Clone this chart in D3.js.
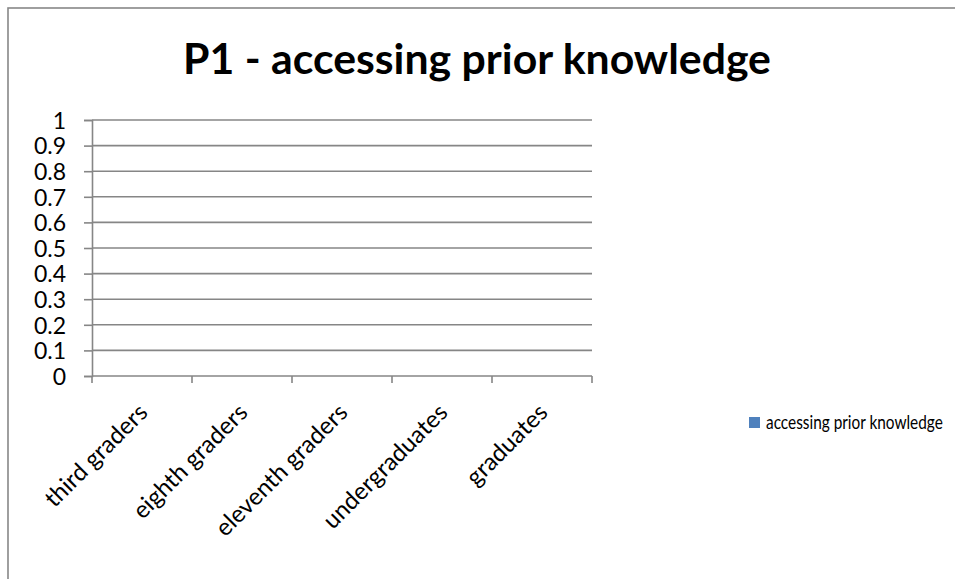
<!DOCTYPE html>
<html>
<head>
<meta charset="utf-8">
<script src="https://cdn.jsdelivr.net/npm/d3@7"></script>
<style>
  html, body { margin: 0; padding: 0; background: #fff; overflow: hidden; }
  svg { display: block; }
  text { font-family: Lato, "Open Sans", "DejaVu Sans", sans-serif; fill: #000; }
</style>
</head>
<body>
<svg id="chart" width="955" height="579"></svg>
<script>
// Chart content
const chartTitle = "P1 - accessing prior knowledge";
const categories = ["third graders", "eighth graders", "eleventh graders", "undergraduates", "graduates"];
const seriesName = "accessing prior knowledge";
const seriesValues = [0, 0, 0, 0, 0];
const yTicks = [0, 0.1, 0.2, 0.3, 0.4, 0.5, 0.6, 0.7, 0.8, 0.9, 1];

const W = 955, H = 579;
const plot = { left: 92, right: 592, top: 120, bottom: 376 };
const gridColor = "#868686";
const barColor = "#4F81BD";

const svg = d3.select("#chart");

// Scale a text's font size so that it spans the given width
function fitWidth(sel, width) {
  const node = sel.node();
  const base = parseFloat(sel.attr("font-size"));
  const len = node.getComputedTextLength();
  if (len > 0) sel.attr("font-size", (base * width / len).toFixed(2));
}

// chart area frame (right and bottom edges fall outside the page)
svg.append("rect")
  .attr("x", 8).attr("y", 8)
  .attr("width", W + 20).attr("height", H + 20)
  .attr("fill", "#fff")
  .attr("stroke", "#878787").attr("stroke-width", 1.6);

// title
const title = svg.append("text")
  .attr("x", 477).attr("y", 74)
  .attr("text-anchor", "middle")
  .attr("font-weight", "bold")
  .attr("font-size", 42)
  .text(chartTitle);
fitWidth(title, 588);

const x = d3.scaleBand().domain(categories).range([plot.left, plot.right]).paddingInner(0.5).paddingOuter(0.25);
const xEdges = d3.scaleLinear().domain([0, categories.length]).range([plot.left, plot.right]);
const y = d3.scaleLinear().domain([0, 1]).range([plot.bottom, plot.top]);

// value axis
const yAxis = d3.axisLeft(y)
  .tickValues(yTicks)
  .tickSize(8)
  .tickFormat(d => d3.format("")(+d.toFixed(1)));

const gy = svg.append("g").attr("transform", `translate(${plot.left},0)`).call(yAxis);
gy.select(".domain").attr("stroke", gridColor).attr("stroke-width", 1.6);
gy.selectAll(".tick line").attr("stroke", gridColor).attr("stroke-width", 1.6);
gy.selectAll(".tick text")
  .attr("font-size", 23)
  .attr("x", -26)
  .attr("dy", "0.36em")
  .style("font-family", "Lato, 'Open Sans', sans-serif");

// horizontal gridlines
svg.append("g").selectAll("line.grid")
  .data(yTicks.filter(d => d > 0))
  .join("line")
  .attr("x1", plot.left).attr("x2", plot.right)
  .attr("y1", d => y(d)).attr("y2", d => y(d))
  .attr("stroke", gridColor).attr("stroke-width", 1.6);

// category axis with boundary tick marks
const gx = svg.append("g").attr("transform", `translate(0,${plot.bottom})`);
gx.append("line")
  .attr("x1", plot.left).attr("x2", plot.right)
  .attr("stroke", gridColor).attr("stroke-width", 1.6);
gx.selectAll("line.tick")
  .data(d3.range(categories.length + 1))
  .join("line")
  .attr("x1", i => xEdges(i)).attr("x2", i => xEdges(i))
  .attr("y1", 0).attr("y2", 7)
  .attr("stroke", gridColor).attr("stroke-width", 1.6);
gx.selectAll("text.cat")
  .data(categories)
  .join("text")
  .attr("class", "cat")
  .attr("text-anchor", "end")
  .attr("font-size", 24)
  .attr("transform", d => `translate(${x(d) + x.bandwidth() / 2 + 7},${38}) rotate(-45)`)
  .text(d => d);

// bars (all values are zero)
svg.append("g").selectAll("rect.bar")
  .data(seriesValues)
  .join("rect")
  .attr("class", "bar")
  .attr("x", (d, i) => x(categories[i]))
  .attr("width", x.bandwidth())
  .attr("y", d => y(d))
  .attr("height", d => y(0) - y(d))
  .attr("fill", barColor);

// legend: text narrowed horizontally to a fixed width
const lg = svg.append("g").attr("transform", "translate(749,417)");
lg.append("rect").attr("width", 11).attr("height", 11).attr("fill", barColor);
const lgText = lg.append("text")
  .attr("x", 0).attr("y", 0).attr("dy", "0.36em")
  .attr("font-size", 19)
  .text(seriesName);
const natural = lgText.node().getComputedTextLength();
lgText.attr("transform", `translate(17,5.5) scale(${natural > 0 ? 177 / natural : 1},1)`);
</script>
</body>
</html>
